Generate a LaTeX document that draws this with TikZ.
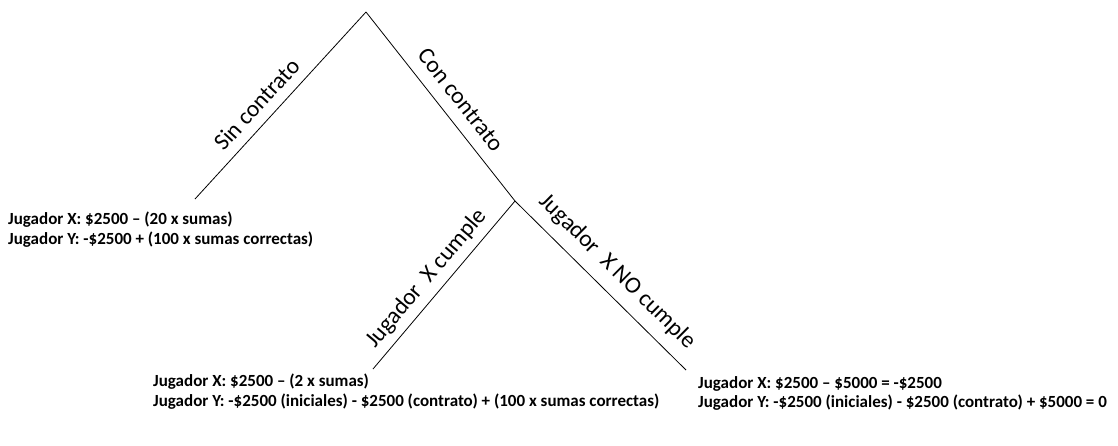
\documentclass[tikz,border=0pt]{standalone}
\usepackage{fontspec}
\setmainfont{Carlito}
\begin{document}
\begin{tikzpicture}[x=1pt,y=-1pt,
  branch/.style={draw=black, line width=0.8pt},
  lbl/.style={sloped, above, inner sep=10pt, font=\fontsize{23.5}{26}\selectfont},
  payoff/.style={anchor=north west, align=left, inner sep=0pt,
    font=\bfseries\fontsize{17}{19.5}\selectfont}]
\useasboundingbox (0,0) rectangle (1118,445);
\coordinate (root) at (366,12);
\coordinate (sin) at (195,199);
\coordinate (junc) at (515,201);
\coordinate (cumple) at (373,369);
\coordinate (nocumple) at (686,370);

\draw[branch] (sin) -- node[lbl, pos=0.44] (lsin) {Sin contrato} (root);
\draw[branch] (root) -- node[lbl, pos=0.53, inner sep=12pt] (lcon) {Con contrato} (junc);
\draw[branch] (cumple) -- node[lbl, pos=0.47, inner sep=7pt] (lcum) {Jugador\ \ X cumple} (junc);
\draw[branch] (junc) -- node[lbl, pos=0.51, inner sep=11pt] (lnocum) {Jugador\ \ X NO cumple} (nocumple);

\node[payoff] (p1) at (8,212) {Jugador X: \$2500 -- (20 x sumas)\\Jugador Y: -\$2500 + (100 x sumas correctas)};
\node[payoff] (p2) at (153,374) {Jugador X: \$2500 -- (2 x sumas)\\Jugador Y: -\$2500 (iniciales) - \$2500 (contrato) + (100 x sumas correctas)};
\node[payoff] (p3) at (698,376) {Jugador X: \$2500 -- \$5000 = -\$2500\\Jugador Y: -\$2500 (iniciales) - \$2500 (contrato) + \$5000 = 0};
\end{tikzpicture}
\end{document}
